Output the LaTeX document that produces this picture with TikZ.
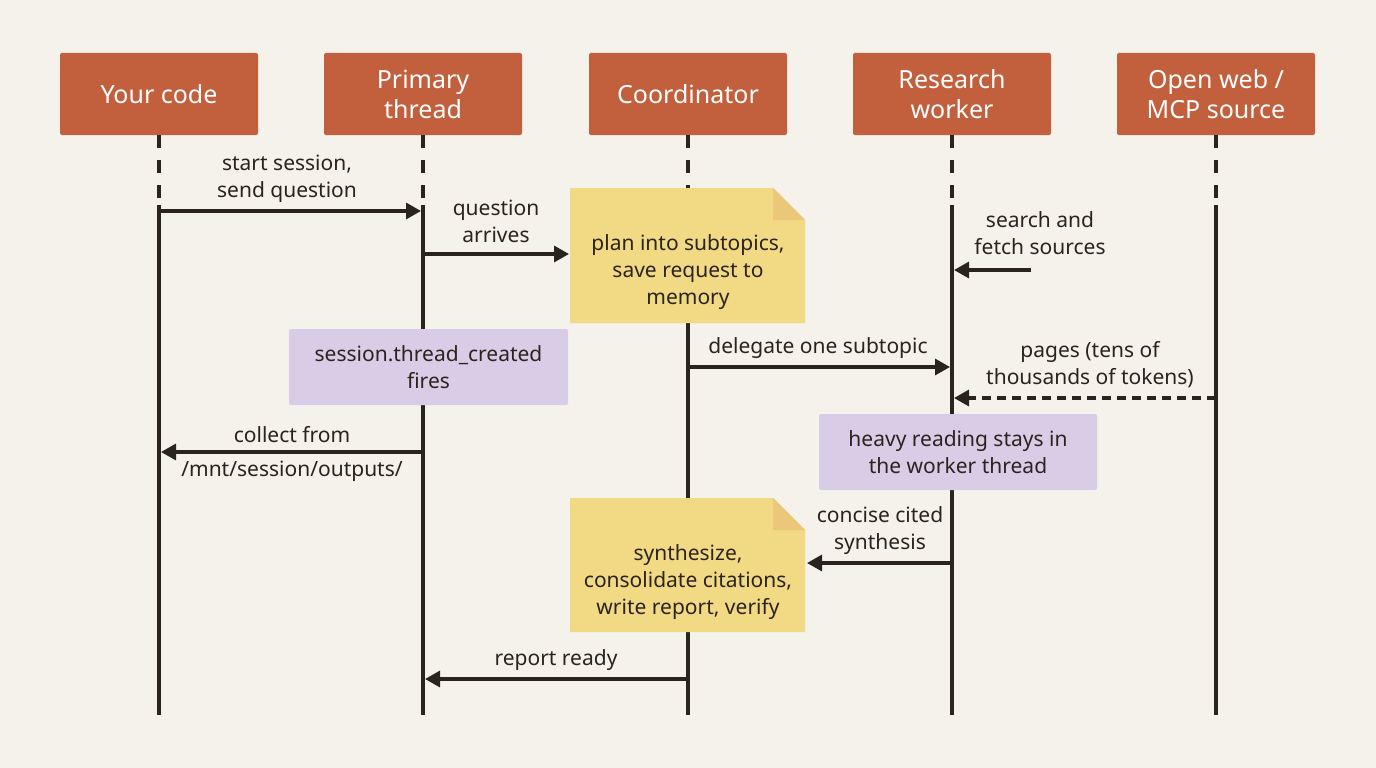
\documentclass[tikz,border=0pt]{standalone}
\usepackage{fontspec}
\setmainfont{Noto Sans}
\usetikzlibrary{arrows.meta}
\definecolor{bg}{HTML}{F5F2EB}
\definecolor{hdr}{HTML}{C2603E}
\definecolor{ink}{HTML}{2B241E}
\definecolor{notey}{HTML}{F2D984}
\definecolor{notep}{HTML}{D9CCE6}
\begin{document}
\begin{tikzpicture}[x=1pt,y=-1pt,
  hdr/.style={fill=hdr,rounded corners=2pt,minimum width=198pt,minimum height=82pt,text=white,font=\fontsize{25}{30}\selectfont,align=center},
  lab/.style={font=\fontsize{21}{27}\selectfont,text=ink,align=center},
  msg/.style={line width=3.2pt,draw=ink,-{Triangle[length=15pt,width=16pt]}},
  life/.style={line width=3.8pt,draw=ink},
  pbox/.style={fill=notep,rounded corners=2pt,font=\fontsize{21}{27}\selectfont,text=ink,align=center}]
\fill[bg] (0,0) rectangle (1376,768);
\useasboundingbox (0,0) rectangle (1376,768);
\foreach \n/\x/\t in {a/159/{Your code},b/423/{Primary\\thread},c/688/{Coordinator},d/952/{Research\\worker},e/1216/{Open web /\\MCP source}}{
  \node[hdr] (h\n) at (\x,94) {\t};
  \coordinate (t\n) at (\x,205);
  \coordinate (e\n) at (\x,715);
  \draw[life,dash pattern=on 13pt off 12pt] (h\n.south) -- (t\n);
  \draw[life] (t\n) -- (e\n);
}
% notes
\fill[notey] (570,188) -- (773,188) -- (805,220) -- (805,323) -- (570,323) -- cycle;
\fill[notey!75!hdr!60!notey] (773,188) -- (773,220) -- (805,220) -- cycle;
\node[lab] (n1) at (688,272) {plan into subtopics,\\save request to\\memory};
\fill[notey] (570,498) -- (773,498) -- (805,530) -- (805,632) -- (570,632) -- cycle;
\fill[notey!75!hdr!60!notey] (773,498) -- (773,530) -- (805,530) -- cycle;
\node[lab] (n2) at (688,582) {synthesize,\\consolidate citations,\\write report, verify};
\node[pbox,minimum width=279pt,minimum height=76pt] (p1) at (428.5,367) {session.thread\_created\\fires};
\node[pbox,minimum width=278pt,minimum height=76pt] (p2) at (958,452) {heavy reading stays in\\the worker thread};
% messages
\coordinate (m1a) at (159,211); \coordinate (m1b) at (421,211);
\draw[msg] (m1a) -- (m1b);
\node[lab] at (287,179) {start session,\\send question};
\coordinate (m2a) at (423,254); \coordinate (m2b) at (569,254);
\draw[msg] (m2a) -- (m2b);
\node[lab] at (496,221) {question\\arrives};
\coordinate (m3a) at (1031,270); \coordinate (m3b) at (954,270);
\draw[msg] (m3a) -- (m3b);
\node[lab] at (1040,233) {search and\\fetch sources};
\coordinate (m4a) at (688,367); \coordinate (m4b) at (950,367);
\draw[msg] (m4a) -- (m4b);
\node[lab] at (818,348) {delegate one subtopic};
\coordinate (m5a) at (1216,398); \coordinate (m5b) at (954,398);
\draw[msg,dash pattern=on 9pt off 6pt] (m5a) -- (m5b);
\node[lab] at (1090,365) {pages (tens of\\thousands of tokens)};
\coordinate (m6a) at (423,452); \coordinate (m6b) at (161,452);
\draw[msg] (m6a) -- (m6b);
\node[lab] at (292,435) {collect from};
\node[lab] at (292,471) {/mnt/session/outputs/};
\coordinate (m7a) at (952,563); \coordinate (m7b) at (807,563);
\draw[msg] (m7a) -- (m7b);
\node[lab] at (880,531) {concise cited\\synthesis};
\coordinate (m8a) at (688,679); \coordinate (m8b) at (425,679);
\draw[msg] (m8a) -- (m8b);
\node[lab] at (556,660) {report ready};
\end{tikzpicture}
\end{document}
